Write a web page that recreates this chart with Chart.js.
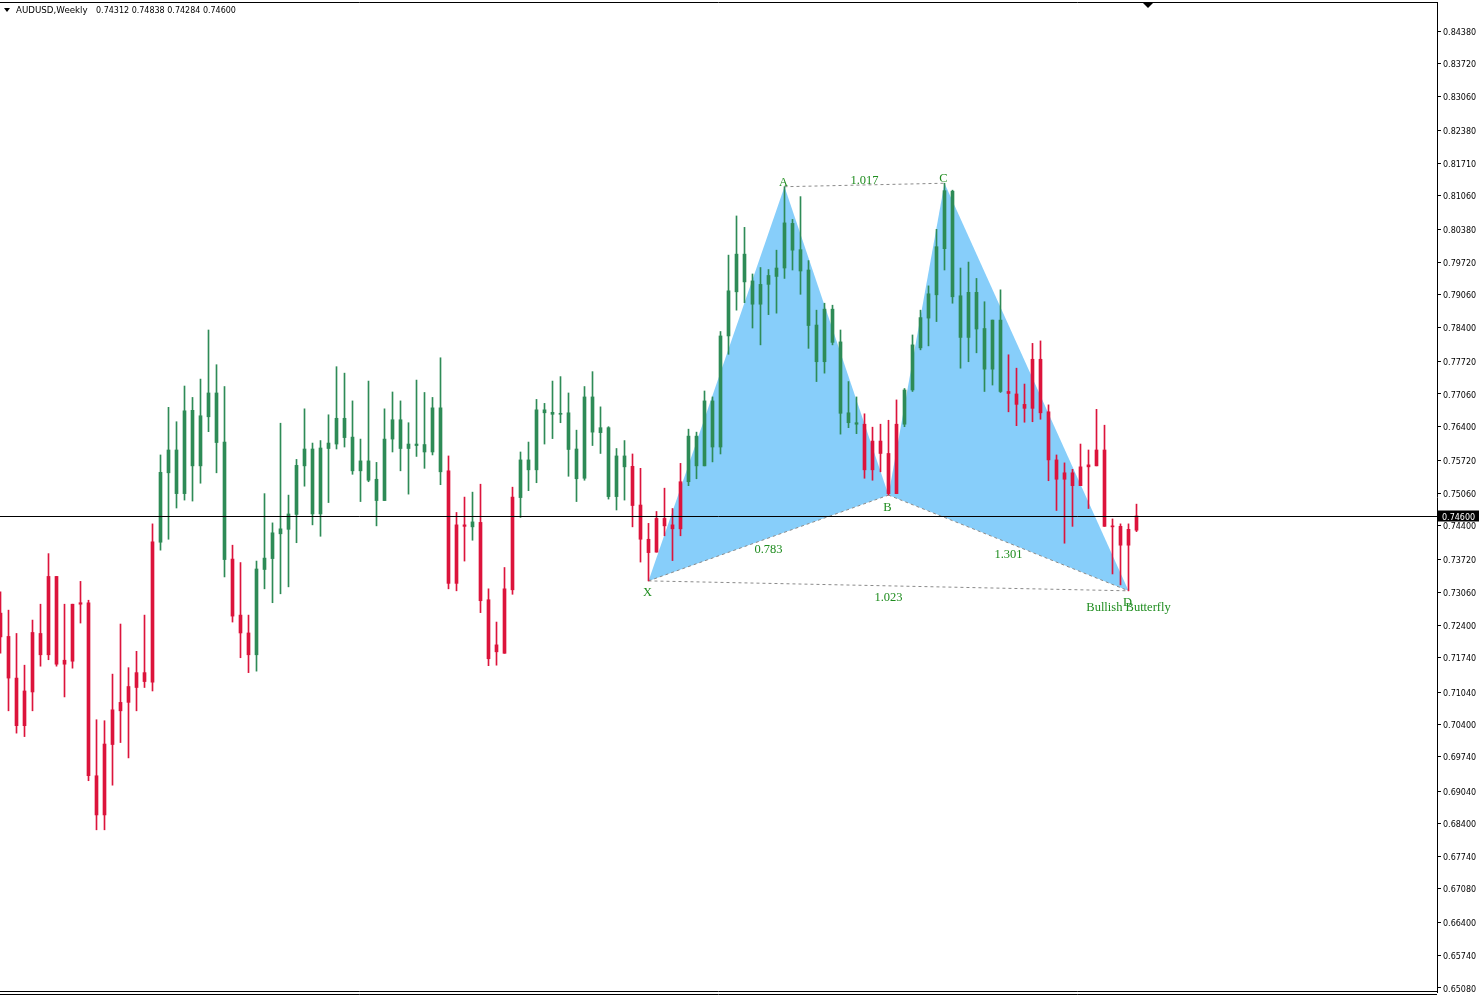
<!DOCTYPE html>
<html>
<head>
<meta charset="utf-8">
<script src="https://cdn.jsdelivr.net/npm/chart.js@4.4.1/dist/chart.umd.min.js"></script>
<style>
  html, body { margin: 0; padding: 0; background: #fff; }
  #wrap { width: 1480px; height: 997px; }
</style>
</head>
<body>
<div id="wrap"><canvas id="c" width="1480" height="997"></canvas></div>
<script>
// AUDUSD weekly candles (oldest first)
const open = [
  0.7264, 0.7217, 0.7133, 0.7037, 0.7105, 0.7223, 0.7180, 0.7338, 0.7161, 0.7167,
  0.7282, 0.7285, 0.6936, 0.6857, 0.6999, 0.7067, 0.7084, 0.7114, 0.7144, 0.7125,
  0.7407, 0.7547, 0.7593, 0.7505, 0.7673, 0.7561, 0.7660, 0.7708, 0.7609, 0.7373,
  0.7260, 0.7224, 0.7180, 0.7352, 0.7374, 0.7424, 0.7433, 0.7463, 0.7561, 0.7595,
  0.7464, 0.7596, 0.7605, 0.7657, 0.7619, 0.7551, 0.7571, 0.7534, 0.7491, 0.7615,
  0.7654, 0.7596, 0.7605, 0.7604, 0.7589, 0.7678, 0.7551, 0.7324, 0.7442, 0.7438,
  0.7447, 0.7291, 0.7200, 0.7183, 0.7311, 0.7497, 0.7573, 0.7553, 0.7674, 0.7669,
  0.7665, 0.7668, 0.7595, 0.7536, 0.7700, 0.7628, 0.7638, 0.7499, 0.7581, 0.7560,
  0.7482, 0.7413, 0.7387, 0.7455, 0.7442, 0.7434, 0.7529, 0.7621, 0.7561, 0.7692,
  0.7599, 0.7823, 0.7912, 0.7988, 0.7934, 0.7887, 0.7927, 0.7943, 0.7960, 0.8050,
  0.7997, 0.7956, 0.7845, 0.7771, 0.7877, 0.7811, 0.7668, 0.7648, 0.7645, 0.7553,
  0.7611, 0.7586, 0.7505, 0.7645, 0.7714, 0.7799, 0.7859, 0.7906, 0.7999, 0.8115,
  0.7904, 0.7820, 0.7911, 0.7838, 0.7756, 0.7855, 0.7711, 0.7706, 0.7685, 0.7677,
  0.7776, 0.7670, 0.7573, 0.7534, 0.7547, 0.7521, 0.7559, 0.7561, 0.7593, 0.7439,
  0.7439, 0.7401, 0.74312
];
const high = [
  0.7307, 0.7270, 0.7223, 0.7159, 0.7250, 0.7282, 0.7384, 0.7338, 0.7282, 0.7282,
  0.7328, 0.7290, 0.7049, 0.7047, 0.7141, 0.7242, 0.7154, 0.7187, 0.7260, 0.7444,
  0.7583, 0.7679, 0.7650, 0.7722, 0.7699, 0.7736, 0.7835, 0.7765, 0.7721, 0.7401,
  0.7366, 0.7260, 0.7369, 0.7505, 0.7446, 0.7647, 0.7502, 0.7574, 0.7676, 0.7607,
  0.7612, 0.7664, 0.7761, 0.7748, 0.7692, 0.7615, 0.7732, 0.7568, 0.7676, 0.7710,
  0.7692, 0.7648, 0.7734, 0.7709, 0.7699, 0.7779, 0.7581, 0.7467, 0.7498, 0.7508,
  0.7524, 0.7313, 0.7246, 0.7356, 0.7518, 0.7589, 0.7609, 0.7695, 0.7687, 0.7732,
  0.7741, 0.7708, 0.7633, 0.7721, 0.7751, 0.7680, 0.7640, 0.7596, 0.7612, 0.7585,
  0.7556, 0.7445, 0.7469, 0.7516, 0.7475, 0.7566, 0.7635, 0.7629, 0.7712, 0.7700,
  0.7832, 0.7986, 0.8065, 0.8042, 0.7948, 0.7961, 0.7957, 0.7996, 0.8124, 0.8058,
  0.8104, 0.7975, 0.7875, 0.7889, 0.7885, 0.7835, 0.7731, 0.7700, 0.7666, 0.7639,
  0.7645, 0.7653, 0.7694, 0.7717, 0.7825, 0.7875, 0.7924, 0.8038, 0.8131, 0.8117,
  0.7960, 0.7972, 0.7939, 0.7892, 0.7855, 0.7916, 0.7785, 0.7758, 0.7726, 0.7808,
  0.7813, 0.7684, 0.7583, 0.7567, 0.7554, 0.7605, 0.7593, 0.7675, 0.7643, 0.7454,
  0.7444, 0.7444, 0.74838
];
const low = [
  0.7183, 0.7067, 0.7022, 0.7015, 0.7067, 0.7157, 0.7170, 0.7157, 0.7095, 0.7153,
  0.7244, 0.6926, 0.6827, 0.6827, 0.6917, 0.7003, 0.6972, 0.7067, 0.7114, 0.7107,
  0.7391, 0.7413, 0.7476, 0.7492, 0.7490, 0.7526, 0.7630, 0.7547, 0.7337, 0.7246,
  0.7174, 0.7144, 0.7147, 0.7313, 0.7285, 0.7303, 0.7317, 0.7406, 0.7520, 0.7442,
  0.7419, 0.7487, 0.7595, 0.7599, 0.7544, 0.7489, 0.7529, 0.7440, 0.7491, 0.7589,
  0.7551, 0.7504, 0.7580, 0.7556, 0.7583, 0.7523, 0.7313, 0.7309, 0.7369, 0.7411,
  0.7265, 0.7158, 0.7159, 0.7183, 0.7302, 0.7457, 0.7511, 0.7527, 0.7605, 0.7616,
  0.7648, 0.7540, 0.7489, 0.7532, 0.7602, 0.7586, 0.7494, 0.7472, 0.7492, 0.7438,
  0.7367, 0.7329, 0.7387, 0.7420, 0.7370, 0.7420, 0.7521, 0.7535, 0.7561, 0.7569,
  0.7585, 0.7786, 0.7875, 0.7890, 0.7839, 0.7805, 0.7866, 0.7869, 0.7939, 0.7956,
  0.7907, 0.7798, 0.7731, 0.7748, 0.7805, 0.7625, 0.7638, 0.7626, 0.7536, 0.7532,
  0.7549, 0.7502, 0.7505, 0.7640, 0.7711, 0.7795, 0.7803, 0.7852, 0.7956, 0.7889,
  0.7758, 0.7771, 0.7789, 0.7711, 0.7724, 0.7709, 0.7670, 0.7642, 0.7649, 0.7650,
  0.7655, 0.7531, 0.7471, 0.7405, 0.7439, 0.7521, 0.7475, 0.7561, 0.7439, 0.7343,
  0.7321, 0.7309, 0.74284
];
const close = [
  0.7216, 0.7133, 0.7037, 0.7107, 0.7225, 0.7180, 0.7338, 0.7161, 0.7169, 0.7282,
  0.7285, 0.6936, 0.6857, 0.7000, 0.7069, 0.7084, 0.7116, 0.7144, 0.7126, 0.7408,
  0.7548, 0.7593, 0.7505, 0.7672, 0.7561, 0.7662, 0.7708, 0.7608, 0.7372, 0.7258,
  0.7224, 0.7180, 0.7353, 0.7375, 0.7426, 0.7434, 0.7464, 0.7562, 0.7595, 0.7464,
  0.7597, 0.7607, 0.7657, 0.7618, 0.7551, 0.7571, 0.7532, 0.7491, 0.7615, 0.7654,
  0.7596, 0.7605, 0.7602, 0.7589, 0.7678, 0.7549, 0.7324, 0.7442, 0.7439, 0.7448,
  0.7289, 0.7172, 0.7186, 0.7313, 0.7498, 0.7573, 0.7553, 0.7674, 0.7668, 0.7665,
  0.7667, 0.7594, 0.7535, 0.7700, 0.7629, 0.7638, 0.7499, 0.7581, 0.7559, 0.7481,
  0.7413, 0.7386, 0.7455, 0.7440, 0.7434, 0.7529, 0.7621, 0.7561, 0.7692, 0.7599,
  0.7823, 0.7914, 0.7988, 0.7932, 0.7887, 0.7927, 0.7945, 0.7960, 0.8051, 0.7996,
  0.7954, 0.7844, 0.7771, 0.7877, 0.7810, 0.7667, 0.7648, 0.7645, 0.7553, 0.7611,
  0.7586, 0.7505, 0.7645, 0.7714, 0.7805, 0.7860, 0.7908, 0.8003, 0.8116, 0.7902,
  0.7820, 0.7911, 0.7837, 0.7756, 0.7855, 0.7711, 0.7707, 0.7685, 0.7677, 0.7776,
  0.7668, 0.7573, 0.7534, 0.7547, 0.7521, 0.7559, 0.7563, 0.7593, 0.7439, 0.7438,
  0.7401, 0.7433, 0.74600
];
// candle colour as shown (G = green, R = red), one letter per week
const trend = ('RRRRRRRRRRRRRRRRRRRR' + 'GGGGGGGGG' + 'RRR' + 'GGGGGGGGGGGGGGGGGGGGGGGG' +
  'RRR' + 'G' + 'RRRRR' + 'GGGGGGGGGGGGGG' + 'RRRRRRR' + 'GGGGGGGGGGGGGGGGGGGGGG' +
  'RRRRR' + 'GGGGGGGGGGGGG' + 'RRRRRRRRRRRRRRRRR').split('');

// price axis labels as printed
const tickLabels = [
  0.84380, 0.83720, 0.83060, 0.82380, 0.81710, 0.81060, 0.80380, 0.79720, 0.79060, 0.78400,
  0.77720, 0.77060, 0.76400, 0.75720, 0.75060, 0.74400, 0.73720, 0.73060, 0.72400, 0.71740,
  0.71040, 0.70400, 0.69740, 0.69040, 0.68400, 0.67740, 0.67080, 0.66400, 0.65740, 0.65080
];

// harmonic pattern: week index of each pivot, and the ratios written on the legs
const pivotNames = ['X', 'A', 'B', 'C', 'D'];
const pivotWeeks = [81, 98, 111, 118, 141];
const legRatios = ['0.783', '1.017', '1.301', '1.023']; // XB, AC, BD, XD
const patternName = 'Bullish Butterfly';
const symbolTitle = 'AUDUSD,Weekly';

const GREEN = '#2E8B57', RED = '#DC143C', FILL = '#87CEFA', TXT = '#1E8C1E';

const weeks = close.map((_, i) => i);
const colors = trend.map(t => t === 'G' ? GREEN : RED);
const last = close.length - 1;

// X, B, D sit on lows, A and C on highs
const P = pivotWeeks.map((w, n) => ({ x: w, y: n % 2 === 0 ? low[w] : high[w] }));
const [X, A, B, C, D] = P;

function lineSet(points, extra) {
  return Object.assign({
    type: 'line', data: points, parsing: false, pointRadius: 0, tension: 0,
    borderWidth: 1, borderColor: 'rgba(0,0,0,0)', fill: false
  }, extra);
}
const dashed = { borderColor: '#8a8a8a', borderDash: [3, 3], order: 1 };

const overlay = {
  id: 'overlay',
  afterDatasetsDraw(chart) {
    const { ctx, chartArea: a, scales: { x, y } } = chart;
    const px = p => [x.getPixelForValue(p.x), y.getPixelForValue(p.y)];
    ctx.save();
    ctx.fillStyle = TXT;
    ctx.font = '12.5px "Liberation Serif"';
    ctx.textAlign = 'center';

    // pivot letters
    P.forEach((p, n) => {
      const [cx, cy] = px(p);
      if (n % 2 === 0) { ctx.textBaseline = 'top'; ctx.fillText(pivotNames[n], cx - 1, cy + 6); }
      else { ctx.textBaseline = 'bottom'; ctx.fillText(pivotNames[n], cx - 1, cy + 2); }
    });
    // leg ratios at mid points
    const mid = (p, q) => { const [x1, y1] = px(p), [x2, y2] = px(q); return [(x1 + x2) / 2, (y1 + y2) / 2]; };
    ctx.textBaseline = 'middle';
    let m = mid(X, B); ctx.fillText(legRatios[0], m[0], m[1] + 12);
    m = mid(A, C); ctx.fillText(legRatios[1], m[0], m[1] - 4);
    m = mid(B, D); ctx.fillText(legRatios[2], m[0], m[1] + 12);
    m = mid(X, D); ctx.fillText(legRatios[3], m[0], m[1] + 12);
    const [dx, dy] = px(D);
    ctx.fillText(patternName, dx, dy + 17);

    // current price line and label
    const py = Math.round(y.getPixelForValue(close[last])) + 0.5;
    ctx.strokeStyle = '#000'; ctx.lineWidth = 1;
    ctx.beginPath(); ctx.moveTo(a.left, py); ctx.lineTo(a.right, py); ctx.stroke();
    ctx.fillStyle = '#000';
    ctx.fillRect(a.right, py - 6, 42, 11);
    ctx.fillStyle = '#fff';
    ctx.font = '8px "DejaVu Sans"';
    ctx.textAlign = 'left';
    ctx.fillText(close[last].toFixed(5), a.right + 5, py + 1);
    ctx.restore();
  },
  afterDraw(chart) {
    const { ctx, chartArea: a } = chart;
    ctx.save();
    ctx.strokeStyle = '#000'; ctx.lineWidth = 1;
    ctx.beginPath();
    ctx.moveTo(a.left, a.top + 0.5); ctx.lineTo(a.right, a.top + 0.5);
    ctx.moveTo(a.left, a.bottom - 0.5); ctx.lineTo(a.right, a.bottom - 0.5);
    ctx.moveTo(a.left, a.bottom + 2.5); ctx.lineTo(a.right, a.bottom + 2.5);
    ctx.stroke();
    ctx.fillStyle = '#000';
    // chart shift marker
    ctx.beginPath(); ctx.moveTo(1143, 3); ctx.lineTo(1153, 3); ctx.lineTo(1148, 8); ctx.closePath(); ctx.fill();
    // header
    ctx.beginPath(); ctx.moveTo(4, 8); ctx.lineTo(10, 8); ctx.lineTo(7, 12); ctx.closePath(); ctx.fill();
    ctx.textBaseline = 'middle';
    ctx.font = '8.7px "DejaVu Sans"';
    ctx.fillText(symbolTitle, 16, 11);
    ctx.font = '8px "DejaVu Sans"';
    ctx.fillText([open[last], high[last], low[last], close[last]].map(v => v.toFixed(5)).join(' '), 96, 11);
    ctx.restore();
  }
};

new Chart(document.getElementById('c'), {
  type: 'bar',
  data: {
    datasets: [
      { label: 'wick', data: weeks.map(i => ({ x: i, y: [low[i], high[i]] })),
        backgroundColor: colors, barThickness: 1, grouped: false, order: 0 },
      { label: 'body', data: weeks.map(i => ({ x: i, y: [open[i], close[i]] })),
        backgroundColor: colors, barThickness: 3, minBarLength: 1, grouped: false, order: 0 },
      lineSet([X, A, B, X], { fill: 'shape', backgroundColor: FILL, order: 2 }),
      lineSet([B, C, D, B], { fill: 'shape', backgroundColor: FILL, order: 2 }),
      lineSet([X, B], dashed),
      lineSet([B, D], dashed),
      lineSet([A, C], dashed),
      lineSet([X, D], dashed)
    ]
  },
  options: {
    responsive: false,
    animation: false,
    layout: { padding: { top: 2, bottom: 5, left: 0, right: 0 } },
    plugins: { legend: { display: false }, tooltip: { enabled: false }, title: { display: false } },
    scales: {
      x: { type: 'linear', display: false, offset: false, min: -0.0625, max: 179.5625 },
      y: {
        position: 'right',
        min: 0.64999,
        max: 0.84965,
        afterFit(s) { s.width = 43; s.paddingTop = 0; s.paddingBottom = 0; },
        afterBuildTicks(s) { s.ticks = tickLabels.map(v => ({ value: v })); },
        ticks: {
          autoSkip: false, padding: 2, color: '#000', labelOffset: 1.5,
          font: { family: 'DejaVu Sans', size: 8 },
          callback: v => v.toFixed(5)
        },
        grid: { drawOnChartArea: false, drawTicks: true, tickLength: 4, color: '#000' },
        border: { display: true, color: '#000' }
      }
    }
  },
  plugins: [overlay]
});
</script>
</body>
</html>
